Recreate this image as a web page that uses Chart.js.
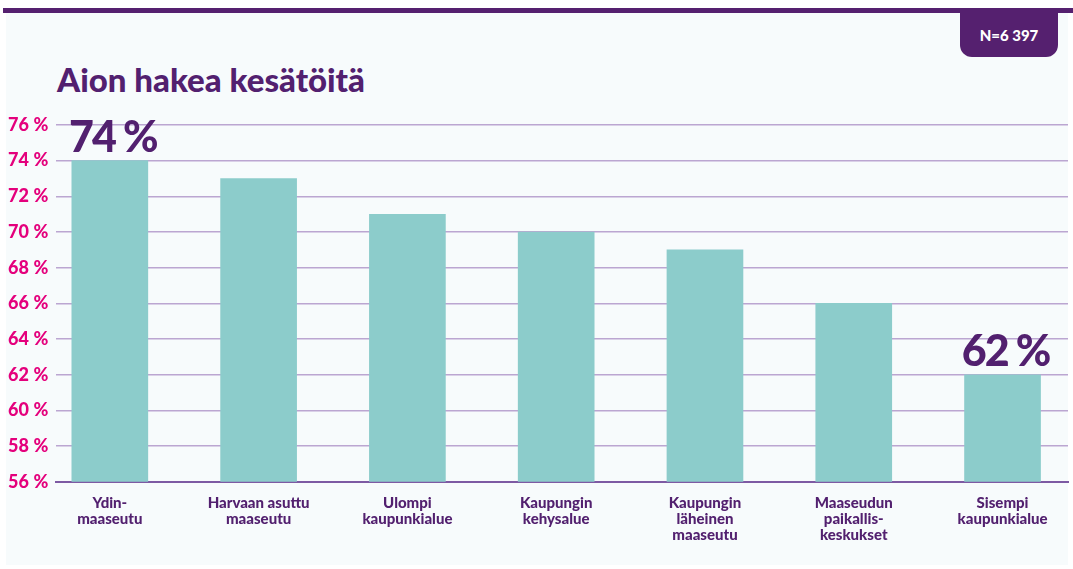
<!DOCTYPE html>
<html lang="fi">
<head>
  <meta charset="UTF-8">
  <title>Aion hakea kesätöitä</title>
  <script src="https://cdn.jsdelivr.net/npm/chart.js"></script>
  <style>
    body {
      margin: 0;
      background: #fff;
      font-family: Lato, sans-serif;
    }
    .wrap {
      position: relative;
      width: 1073px;
      height: 569px;
      overflow: hidden;
    }
    .topbar {
      position: absolute;
      left: 3px;
      right: 0;
      top: 8px;
      height: 5px;
      background: #55206f;
    }
    .panel {
      position: absolute;
      left: 6px;
      top: 13px;
      width: 1062px;
      height: 552px;
      background: #f7fbfc;
    }
    .badge {
      position: absolute;
      left: 960px;
      top: 13px;
      width: 98px;
      height: 44px;
      background: #55206f;
      border-radius: 0 0 12px 12px;
      color: #fff;
      font: 900 15px Lato, sans-serif;
      display: flex;
      align-items: center;
      justify-content: center;
    }
    h1 {
      position: absolute;
      left: 57px;
      top: 63px;
      margin: 0;
      font: 900 33px/33px Lato, sans-serif;
      color: #52206f;
    }
    .chart-box {
      position: absolute;
      left: 0;
      top: 0;
      width: 1073px;
      height: 569px;
    }
  </style>
</head>
<body>
<div class="wrap">
  <div class="panel"></div>
  <div class="topbar"></div>
  <div class="badge">N=6&nbsp;397</div>
  <h1>Aion hakea kesätöitä</h1>
  <div class="chart-box"><canvas id="summerJobs"></canvas></div>
</div>

<script>
  const categories = [
    ['Ydin-', 'maaseutu'],
    ['Harvaan asuttu', 'maaseutu'],
    ['Ulompi', 'kaupunkialue'],
    ['Kaupungin', 'kehysalue'],
    ['Kaupungin', 'läheinen', 'maaseutu'],
    ['Maaseudun', 'paikallis-', 'keskukset'],
    ['Sisempi', 'kaupunkialue']
  ];
  const values = [74, 73, 71, 70, 69, 66, 62];
  const highlighted = [0, 6];
  const yTicks = [56, 58, 60, 62, 64, 66, 68, 70, 72, 74, 76];

  const purple = '#52206f';
  const pink = '#e4007c';

  const barValueLabels = {
    id: 'barValueLabels',
    afterDatasetsDraw(chart) {
      const ctx = chart.ctx;
      const meta = chart.getDatasetMeta(0);
      ctx.save();
      ctx.font = '900 43px Lato, sans-serif';
      ctx.letterSpacing = '-2px';
      ctx.fillStyle = purple;
      ctx.textAlign = 'center';
      ctx.textBaseline = 'alphabetic';
      highlighted.forEach(i => {
        const bar = meta.data[i];
        ctx.fillText(values[i] + ' %', bar.x + 3, bar.y - 9);
      });
      ctx.restore();
    }
  };

  const ctx = document.getElementById('summerJobs').getContext('2d');
  const chart = new Chart(ctx, {
    type: 'bar',
    data: {
      datasets: [{
        data: values.map((v, i) => ({ x: i, y: v })),
        backgroundColor: '#8ccccb',
        borderWidth: 0,
        barThickness: 76
      }]
    },
    options: {
      responsive: true,
      maintainAspectRatio: false,
      animation: false,
      layout: {
        padding: { left: 0, right: 5, top: 125, bottom: 13 }
      },
      plugins: {
        legend: { display: false },
        tooltip: { enabled: false }
      },
      scales: {
        x: {
          type: 'linear',
          offset: false,
          min: -0.36,
          max: 6.44,
          afterBuildTicks: axis => {
            axis.ticks = categories.map((_, i) => ({ value: i }));
          },
          grid: { display: false, drawTicks: false },
          border: { display: true, color: '#7d5aa3', width: 2 },
          ticks: {
            autoSkip: false,
            maxRotation: 0,
            padding: 13,
            color: purple,
            font: { family: 'Lato, sans-serif', size: 15, weight: '900', lineHeight: 1.07 },
            callback: v => categories[v]
          }
        },
        y: {
          min: 56,
          max: 76,
          afterBuildTicks: axis => {
            axis.ticks = yTicks.map(v => ({ value: v }));
          },
          grid: { color: '#bba6d1', lineWidth: 1.5, drawTicks: false },
          border: { display: false },
          ticks: {
            padding: 8,
            color: pink,
            font: { family: 'Lato, sans-serif', size: 18, weight: '900' },
            callback: v => v + '\u202F%'
          }
        }
      }
    },
    plugins: [barValueLabels]
  });
</script>
</body>
</html>
